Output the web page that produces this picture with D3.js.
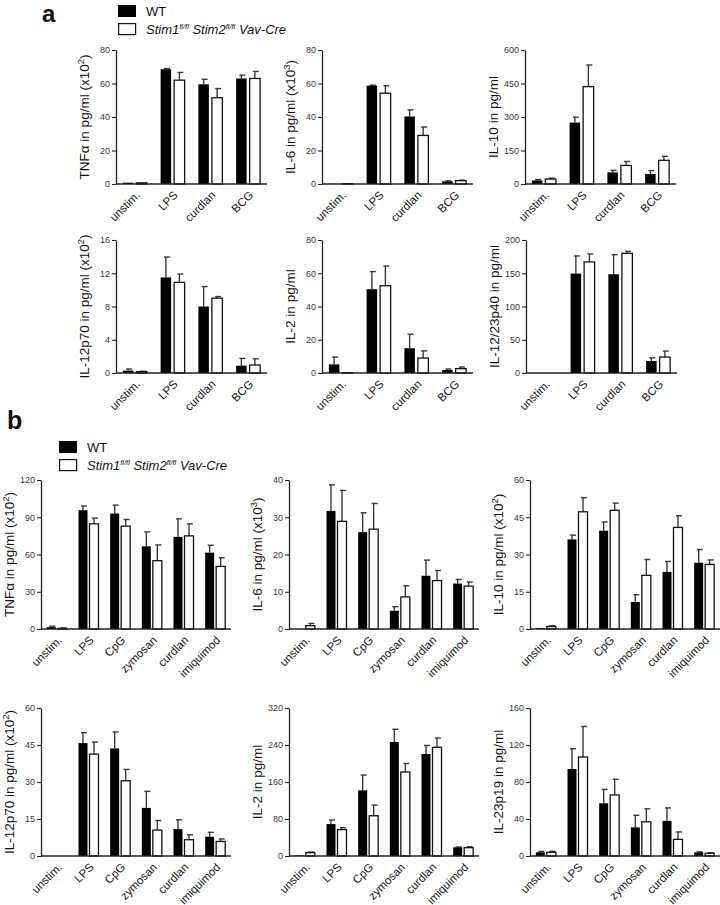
<!DOCTYPE html>
<html><head><meta charset="utf-8">
<script src="https://cdn.jsdelivr.net/npm/d3@7/dist/d3.min.js"></script>
<style>
body{margin:0;background:#fff;}
svg{display:block;font-family:"Liberation Sans",Arial,sans-serif;}
</style></head>
<body>
<svg id="fig" width="720" height="905"></svg>
<script>
// ---------- categories ----------
const catsA = ["unstim.", "LPS", "curdlan", "BCG"];
const catsB = ["unstim.", "LPS", "CpG", "zymosan", "curdlan", "imiquimod"];
const seriesWT = "WT";
const seriesKO = ["Stim1", "fl/fl", " Stim2", "fl/fl", " Vav-Cre"];

// ---------- panel a values (mean, SEM) ----------
const aTNF_wt = [0.8, 68.5, 59.5, 63.0];     const aTNF_wtErr = [0, 0.4, 3.0, 2.0];
const aTNF_ko = [0.7, 62.0, 51.5, 63.0];     const aTNF_koErr = [0, 4.6, 5.5, 4.2];
const aIL6_wt = [0.1, 58.7, 40.3, 1.6];      const aIL6_wtErr = [0, 0.3, 4.0, 0.3];
const aIL6_ko = [0.2, 54.2, 29.0, 2.0];      const aIL6_koErr = [0, 4.5, 5.0, 0.3];
const aIL10_wt = [16, 275, 52, 45];          const aIL10_wtErr = [4, 24, 9, 15];
const aIL10_ko = [22, 436, 83, 106];         const aIL10_koErr = [4, 97, 18, 18];
const aIL12p70_wt = [0.28, 11.5, 8.0, 0.88]; const aIL12p70_wtErr = [0.2, 2.45, 2.4, 0.88];
const aIL12p70_ko = [0.16, 10.9, 9.0, 0.96]; const aIL12p70_koErr = [0.05, 1.0, 0.2, 0.75];
const aIL2_wt = [5.2, 50.4, 14.9, 1.8];      const aIL2_wtErr = [4.4, 10.6, 8.4, 0.6];
const aIL2_ko = [0.2, 52.5, 9.0, 2.6];       const aIL2_koErr = [0, 11.8, 4.3, 1.0];
const aIL1223_wt = [0, 149.5, 148.5, 18];    const aIL1223_wtErr = [0, 26.5, 29.5, 5];
const aIL1223_ko = [0, 167, 180, 24];        const aIL1223_koErr = [0, 12, 3, 9];

// ---------- panel b values (mean, SEM) ----------
const bTNF_wt = [1.5, 95.7, 93.0, 66.6, 74.2, 61.5]; const bTNF_wtErr = [0.8, 3.3, 6.8, 11.6, 14.5, 5.9];
const bTNF_ko = [0.5, 84.7, 82.8, 55.0, 75.0, 50.4]; const bTNF_koErr = [0.3, 4.6, 5.4, 12.7, 9.7, 7.0];
const bIL6_wt = [0, 31.7, 26.0, 4.9, 14.3, 12.2];    const bIL6_wtErr = [0, 7.0, 5.2, 1.1, 4.2, 1.1];
const bIL6_ko = [0.9, 28.9, 26.8, 8.6, 13.0, 11.5];  const bIL6_koErr = [0.6, 8.3, 6.9, 3.0, 2.7, 1.1];
const bIL10_wt = [0.4, 36.1, 39.6, 10.9, 23.0, 26.7]; const bIL10_wtErr = [0, 1.7, 3.5, 2.9, 4.2, 5.3];
const bIL10_ko = [1.0, 47.2, 47.8, 21.6, 40.9, 26.0]; const bIL10_koErr = [0.3, 5.7, 2.9, 6.4, 4.7, 1.8];
const bIL12p70_wt = [0, 45.8, 43.6, 19.5, 10.9, 7.8]; const bIL12p70_wtErr = [0, 4.2, 6.7, 6.7, 3.8, 1.8];
const bIL12p70_ko = [0, 41.3, 30.5, 10.5, 6.6, 5.9];  const bIL12p70_koErr = [0, 4.9, 4.6, 3.9, 2.0, 1.0];
const bIL2_wt = [1.5, 69, 142, 246.5, 220.5, 18.7];  const bIL2_wtErr = [0, 9, 33, 27.5, 18.5, 0.8];
const bIL2_ko = [7.2, 57, 87, 181.6, 235, 18];       const bIL2_koErr = [1.4, 4, 23, 18.4, 20, 2];
const bIL23_wt = [4, 94, 57, 31, 38, 4];             const bIL23_wtErr = [1, 22, 15, 13, 14, 0.5];
const bIL23_ko = [4, 107, 66, 37, 18, 3];            const bIL23_koErr = [1, 33, 17, 14, 8, 0.5];

// ---------- y-axis titles ----------
const tTNF = [["TNF\u03B1 in pg/ml (x10",0],["2",1],[")",0]];
const tIL6 = [["IL-6 in pg/ml (x10",0],["3",1],[")",0]];
const tIL10 = [["IL-10 in pg/ml",0]];
const tIL10b = [["IL-10 in pg/ml (x10",0],["2",1],[")",0]];
const tIL12p70 = [["IL-12p70 in pg/ml (x10",0],["2",1],[")",0]];
const tIL2 = [["IL-2 in pg/ml",0]];
const tIL1223 = [["IL-12/23p40 in pg/ml",0]];
const tIL23 = [["IL-23p19 in pg/ml",0]];

const svg = d3.select("#fig");
const FONT = "\"Liberation Sans\",Arial,sans-serif";

const charts = [
  // panel a
  {cats:catsA, x0:116, top:50, bot:184, w:151, bw:10.5, gap:3, ymax:80, title:tTNF, wt:aTNF_wt, wtE:aTNF_wtErr, ko:aTNF_ko, koE:aTNF_koErr},
  {cats:catsA, x0:322, top:50, bot:184, w:151, bw:10.5, gap:3, ymax:80, title:tIL6, wt:aIL6_wt, wtE:aIL6_wtErr, ko:aIL6_ko, koE:aIL6_koErr},
  {cats:catsA, x0:525, top:50, bot:184, w:151, bw:10.5, gap:3, ymax:600, title:tIL10, wt:aIL10_wt, wtE:aIL10_wtErr, ko:aIL10_ko, koE:aIL10_koErr},
  {cats:catsA, x0:116, top:240, bot:373, w:151, bw:10.5, gap:3, ymax:16, title:tIL12p70, wt:aIL12p70_wt, wtE:aIL12p70_wtErr, ko:aIL12p70_ko, koE:aIL12p70_koErr},
  {cats:catsA, x0:322, top:240, bot:373, w:151, bw:10.5, gap:3, ymax:80, title:tIL2, wt:aIL2_wt, wtE:aIL2_wtErr, ko:aIL2_ko, koE:aIL2_koErr},
  {cats:catsA, x0:526, top:240, bot:373, w:151, bw:10.5, gap:3, ymax:200, title:tIL1223, wt:aIL1223_wt, wtE:aIL1223_wtErr, ko:aIL1223_ko, koE:aIL1223_koErr},
  // panel b
  {cats:catsB, x0:41, top:480, bot:629, w:190, bw:9, gap:2, ymax:120, title:tTNF, wt:bTNF_wt, wtE:bTNF_wtErr, ko:bTNF_ko, koE:bTNF_koErr},
  {cats:catsB, x0:289, top:480, bot:629, w:190, bw:9, gap:2, ymax:40, title:tIL6, wt:bIL6_wt, wtE:bIL6_wtErr, ko:bIL6_ko, koE:bIL6_koErr},
  {cats:catsB, x0:530, top:480, bot:629, w:190, bw:9, gap:2, ymax:60, title:tIL10b, wt:bIL10_wt, wtE:bIL10_wtErr, ko:bIL10_ko, koE:bIL10_koErr},
  {cats:catsB, x0:41, top:708, bot:856, w:190, bw:9, gap:2, ymax:60, title:tIL12p70, wt:bIL12p70_wt, wtE:bIL12p70_wtErr, ko:bIL12p70_ko, koE:bIL12p70_koErr},
  {cats:catsB, x0:289, top:708, bot:856, w:190, bw:9, gap:2, ymax:320, title:tIL2, wt:bIL2_wt, wtE:bIL2_wtErr, ko:bIL2_ko, koE:bIL2_koErr},
  {cats:catsB, x0:530, top:708, bot:856, w:190, bw:9, gap:2, ymax:160, title:tIL23, wt:bIL23_wt, wtE:bIL23_wtErr, ko:bIL23_ko, koE:bIL23_koErr}
];

function drawChart(c){
  const g = svg.append("g");
  const x = d3.scaleBand().domain(c.cats).range([c.x0, c.x0 + c.w]).padding(0);
  const y = d3.scaleLinear().domain([0, c.ymax]).range([c.bot, c.top]);
  const cx = d => x(d) + x.bandwidth()/2;

  const rows = c.cats.map((k,i)=>({k, wt:c.wt[i], wtE:c.wtE[i], ko:c.ko[i], koE:c.koE[i]}));
  const errs = [];
  rows.forEach(r=>{
    const xb = cx(r.k) - c.gap/2 - c.bw;
    const xw = cx(r.k) + c.gap/2;
    errs.push({x: xb + c.bw/2, v:r.wt, e:r.wtE});
    errs.push({x: xw + c.bw/2, v:r.ko, e:r.koE});
  });
  // error bars (drawn first so the bar covers the part inside)
  errs.filter(d=>d.e>0).forEach(d=>{
    g.append("line").attr("x1",d.x).attr("x2",d.x).attr("y1",y(d.v)).attr("y2",y(d.v+d.e))
      .attr("stroke","#3a3a3a").attr("stroke-width",1.4);
    g.append("line").attr("x1",d.x-2).attr("x2",d.x+4).attr("y1",y(d.v+d.e)).attr("y2",y(d.v+d.e))
      .attr("stroke","#3a3a3a").attr("stroke-width",1.4);
  });
  g.selectAll(".bwt").data(rows).join("rect")
    .attr("x", d=>cx(d.k) - c.gap/2 - c.bw).attr("width", c.bw)
    .attr("y", d=>y(d.wt)).attr("height", d=>c.bot - y(d.wt))
    .attr("fill","#000");
  g.selectAll(".bko").data(rows.filter(d=>d.ko>0)).join("rect")
    .attr("x", d=>cx(d.k) + c.gap/2).attr("width", c.bw)
    .attr("y", d=>y(d.ko)).attr("height", d=>c.bot - y(d.ko))
    .attr("fill","#fff").attr("stroke","#111").attr("stroke-width",1.3);

  // y axis
  const yAxis = d3.axisLeft(y).tickValues(d3.range(0, 5).map(i=>i*c.ymax/4))
      .tickSize(4).tickSizeOuter(0).tickPadding(2).tickFormat(d3.format("d"));
  const ya = g.append("g").attr("transform",`translate(${c.x0},0)`).call(yAxis);
  ya.select(".domain").attr("stroke","#222").attr("stroke-width",1.3);
  ya.selectAll(".tick line").attr("stroke","#222").attr("stroke-width",1.1);
  ya.selectAll("text").attr("font-size",9).attr("fill","#333").attr("font-family",FONT);

  // x axis
  g.append("line").attr("x1",c.x0).attr("x2",c.x0 + c.w).attr("y1",c.bot).attr("y2",c.bot)
    .attr("stroke","#222").attr("stroke-width",1.4);
  const xa = g.append("g").attr("transform",`translate(0,${c.bot})`)
    .call(d3.axisBottom(x).tickSize(0).tickSizeOuter(0));
  xa.select(".domain").remove();
  xa.selectAll("text").attr("font-size",11.5).attr("fill","#111").attr("font-family",FONT)
    .attr("text-anchor","end").attr("dy","0.35em").attr("y",0).attr("x",0)
    .attr("transform","translate(3,9) rotate(-45)");

  // y title
  const t = g.append("text").attr("font-size",13.5).attr("fill","#111").attr("font-family",FONT)
    .attr("text-anchor","middle")
    .attr("transform",`translate(${c.x0 - 27},${(c.top + c.bot)/2}) rotate(-90)`);
  c.title.forEach(([s,sup])=>{
    const ts = t.append("tspan").text(s);
    if(sup){ ts.attr("font-size",9.5).attr("dy",-5); }
    else if(t.selectAll("tspan").size()>1){ ts.attr("dy",5); }
  });
}
charts.forEach(drawChart);

// ---------- legends & panel letters ----------
function legend(x, y){
  svg.append("rect").attr("x",x).attr("y",y).attr("width",18).attr("height",12).attr("fill","#000");
  svg.append("text").attr("x",x+28).attr("y",y+11).attr("font-size",13).attr("fill","#111")
    .attr("font-family",FONT).text(seriesWT);
  svg.append("rect").attr("x",x+0.6).attr("y",y+18.6).attr("width",17).attr("height",11)
    .attr("fill","#fff").attr("stroke","#111").attr("stroke-width",1.2);
  const t = svg.append("text").attr("x",x+28).attr("y",y+29).attr("font-size",13).attr("fill","#111")
    .attr("font-family",FONT).attr("font-style","italic");
  seriesKO.forEach((s,i)=>{
    const ts = t.append("tspan").text(s);
    if(i%2===1) ts.attr("font-size",7.5).attr("dy",-5);
    else if(i>0) ts.attr("dy",5);
  });
}
legend(118, 5);
legend(59, 441);

svg.append("text").attr("x",42).attr("y",22).attr("font-size",24).attr("font-weight","bold")
  .attr("font-family",FONT).attr("fill","#111").text("a");
svg.append("text").attr("x",7).attr("y",429).attr("font-size",25).attr("font-weight","bold")
  .attr("font-family",FONT).attr("fill","#111").text("b");
</script>
</body></html>
